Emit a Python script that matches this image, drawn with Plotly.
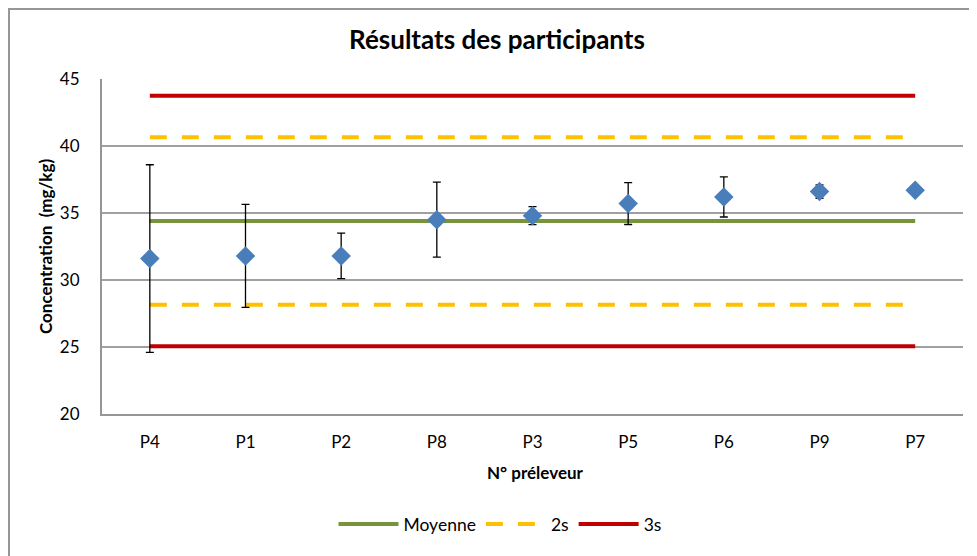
import plotly.graph_objects as go

categories = ["P4", "P1", "P2", "P8", "P3", "P5", "P6", "P9", "P7"]
values = [31.6, 31.8, 31.8, 34.5, 34.8, 35.7, 36.2, 36.6, 36.7]
errors = [7.0, 3.85, 1.7, 2.8, 0.67, 1.56, 1.5, 0.5, 0.0]
moyenne = 34.4
two_s_upper = 40.65
two_s_lower = 28.15
three_s_upper = 43.75
three_s_lower = 25.05

FONT = "Lato, 'Open Sans', sans-serif"

# page renders figure offset by the body margin (8px); work in reference pixel coords
OFF = 8
W, H = 977, 556
PL, PR, PT, PB = 102 - OFF, 963 - OFF, 79 - OFF, 414 - OFF
PW, PH = PR - PL, PB - PT


def px(xr):
    return (xr - OFF - PL) / PW


def py(yr):
    return (PB - (yr - OFF)) / PH


fig = go.Figure()

n = len(categories)
fig.add_trace(go.Scatter(x=categories, y=[moyenne] * n, mode="lines", name="Moyenne",
                         line=dict(color="#77933C", width=4), legendgroup="m"))
fig.add_trace(go.Scatter(x=categories, y=[two_s_upper] * n, mode="lines", name="2s",
                         line=dict(color="#FFC000", width=4, dash="17px,15px"), legendgroup="2s"))
fig.add_trace(go.Scatter(x=categories, y=[two_s_lower] * n, mode="lines", name="2s",
                         line=dict(color="#FFC000", width=4, dash="17px,15px"), legendgroup="2s",
                         showlegend=False))
fig.add_trace(go.Scatter(x=categories, y=[three_s_upper] * n, mode="lines", name="3s",
                         line=dict(color="#C00000", width=4), legendgroup="3s"))
fig.add_trace(go.Scatter(x=categories, y=[three_s_lower] * n, mode="lines", name="3s",
                         line=dict(color="#C00000", width=4), legendgroup="3s", showlegend=False))
fig.add_trace(go.Scatter(x=categories, y=values, mode="markers", name="Résultats",
                         marker=dict(symbol="diamond", size=15, color="#4A7EBB"),
                         error_y=dict(type="data", array=errors, visible=True,
                                      color="black", thickness=1.3, width=4),
                         showlegend=False))

fig.update_layout(
    width=W, height=H,
    margin=dict(l=PL, r=W - PR, t=PT, b=H - PB),
    paper_bgcolor="white", plot_bgcolor="white",
    font=dict(family=FONT, color="black", size=17),
    title=dict(text="<b>Résultats des participants</b>", x=(497 - OFF) / W, xref="container",
               xanchor="center", y=1 - (40 - OFF) / H, yref="container", yanchor="middle",
               font=dict(size=26, family=FONT, color="black")),
    showlegend=True,
    legend=dict(orientation="h", x=px(500), xanchor="center",
                y=py(524), yanchor="middle", font=dict(size=17.5),
                traceorder="normal", itemwidth=60),
    xaxis=dict(type="category", range=[-0.5, n - 0.5], showgrid=False,
               showline=True, linecolor="#969696", linewidth=2, ticks="",
               tickfont=dict(size=17), ticklabelstandoff=12, zeroline=False),
    yaxis=dict(range=[20, 45], tickvals=[20, 25, 30, 35, 40, 45], showgrid=True,
               gridcolor="#A0A0A0", gridwidth=1.5, showline=True, linecolor="#969696",
               linewidth=2, ticks="", tickfont=dict(size=17), ticklabelstandoff=17,
               zeroline=False),
)

fig.add_annotation(text="<b>N° préleveur</b>", xref="paper", yref="paper",
                   x=px(535), y=py(472), showarrow=False,
                   xanchor="center", yanchor="middle", font=dict(size=17))
fig.add_annotation(text="<b>Concentration  (mg/kg)</b>", xref="paper", yref="paper",
                   x=px(45), y=py(247), showarrow=False, textangle=-90,
                   xanchor="center", yanchor="middle", font=dict(size=17))

fig.add_shape(type="rect", xref="paper", yref="paper",
              x0=px(9), x1=px(1000), y0=py(580), y1=py(9),
              line=dict(color="#969696", width=2), fillcolor="rgba(0,0,0,0)", layer="below")

fig.write_html("out.html")
